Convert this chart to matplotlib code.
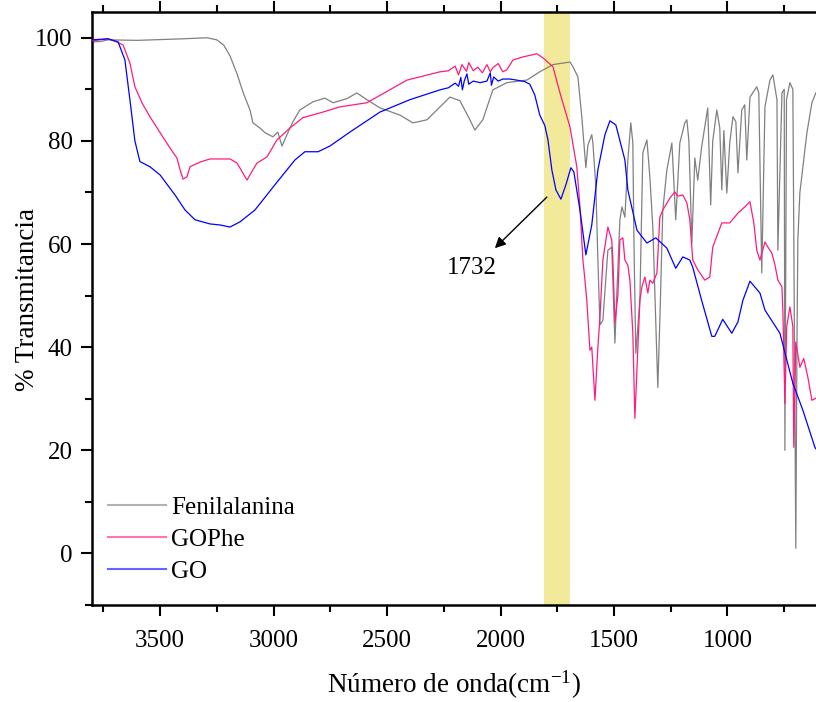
import matplotlib
matplotlib.use("Agg")
import matplotlib.pyplot as plt
from matplotlib.ticker import MultipleLocator

plt.rcParams["font.family"] = ["Liberation Serif", "DejaVu Serif"]
plt.rcParams["mathtext.default"] = "regular"

# ── Spectra (wavenumber cm-1, % transmittance) ──────────────────────────────
phe_wn = [3800, 3760, 3730, 3600, 3400, 3293, 3250, 3220, 3192, 3161, 3135,
          3104, 3091, 3060, 3038, 3003, 2981, 2963, 2941, 2915, 2884, 2826,
          2774, 2738, 2677, 2633, 2589, 2531, 2443, 2386, 2324, 2223, 2179,
          2135, 2113, 2078, 2034, 1972, 1884, 1827, 1769, 1694, 1681, 1659,
          1642, 1624, 1615, 1598, 1593, 1580, 1571, 1562, 1549, 1527, 1510,
          1496, 1488, 1474, 1465, 1452, 1439, 1426, 1417, 1412, 1404, 1386,
          1373, 1355, 1342, 1329, 1307, 1298, 1285, 1267, 1245, 1228, 1210,
          1188, 1179, 1170, 1157, 1144, 1131, 1114, 1087, 1074, 1065, 1047,
          1034, 1025, 1016, 1003, 990, 976, 963, 954, 937, 924, 915, 901, 871,
          862, 849, 835, 813, 800, 782, 778, 760, 750, 747, 740, 725, 712,
          699, 694, 690, 681, 650, 628, 611]
phe_t = [99.2, 99.3, 99.6, 99.5, 99.8, 100.0, 99.6, 98.6, 96.5, 93.0, 89.5,
         86.0, 83.5, 82.5, 81.6, 80.8, 81.7, 79.0, 81.2, 83.7, 86.0, 87.6,
         88.3, 87.4, 88.2, 89.3, 88.0, 86.4, 85.0, 83.5, 84.1, 88.5, 87.8,
         84.1, 82.1, 84.1, 89.9, 91.3, 91.8, 93.4, 94.8, 95.3, 94.4, 92.4,
         84.7, 74.8, 79.2, 81.2, 79.6, 71.1, 56.9, 44.3, 45.2, 58.8, 59.4,
         40.8, 50.0, 64.7, 67.2, 65.2, 76.3, 83.5, 79.6, 60.0, 38.8, 49.1,
         77.7, 80.2, 73.0, 63.3, 32.2, 45.2, 66.6, 74.4, 79.6, 64.7, 79.6,
         83.5, 84.1, 80.0, 60.2, 76.7, 72.4, 78.8, 86.4, 67.6, 80.0, 86.0,
         82.5, 70.5, 82.0, 69.9, 79.6, 84.7, 83.7, 73.8, 86.0, 87.0, 76.3,
         88.5, 90.5, 89.3, 54.4, 86.6, 91.8, 92.8, 88.0, 58.8, 89.3, 90.0,
         20.0, 88.0, 91.3, 90.0, 1.0, 40.0, 60.8, 70.0, 81.6, 87.4, 89.3]

gophe_wn = [3800, 3730, 3690, 3663, 3633, 3611, 3580, 3545, 3500, 3456, 3426,
            3412, 3399, 3382, 3368, 3324, 3280, 3192, 3161, 3117, 3091, 3073,
            3029, 2985, 2928, 2871, 2782, 2708, 2589, 2412, 2267, 2230, 2200,
            2185, 2170, 2150, 2140, 2120, 2100, 2080, 2060, 2045, 2034, 2010,
            1990, 1972, 1945, 1900, 1840, 1813, 1769, 1738, 1694, 1664, 1650,
            1637, 1628, 1620, 1606, 1598, 1584, 1571, 1562, 1549, 1527, 1510,
            1505, 1496, 1483, 1474, 1461, 1452, 1439, 1430, 1417, 1408, 1386,
            1377, 1364, 1351, 1342, 1329, 1311, 1298, 1285, 1254, 1232, 1219,
            1197, 1179, 1166, 1153, 1131, 1100, 1078, 1065, 1025, 990, 954,
            924, 901, 884, 871, 857, 835, 822, 805, 791, 778, 760, 756, 747,
            739, 725, 712, 708, 699, 681, 664, 646, 628, 611]
gophe_t = [99.4, 99.8, 99.2, 98.6, 95.1, 90.5, 87.4, 84.7, 81.6, 78.6, 76.7,
           74.4, 72.6, 73.0, 75.0, 75.9, 76.5, 76.5, 75.7, 72.4, 74.4, 75.7,
           76.9, 80.2, 82.5, 84.5, 85.6, 86.6, 87.4, 91.8, 93.4, 93.6, 94.5,
           92.8, 94.8, 93.5, 95.2, 93.6, 94.3, 93.2, 94.8, 93.4, 94.2, 95.0,
           93.4, 93.8, 95.7, 96.3, 96.9, 96.1, 94.4, 89.3, 82.7, 75.0, 67.2,
           56.9, 53.0, 49.1, 39.4, 40.0, 29.7, 40.0, 45.8, 56.9, 63.3, 60.8,
           56.9, 44.7, 50.0, 60.8, 61.2, 56.9, 55.9, 53.0, 42.7, 26.2, 49.1,
           51.7, 53.6, 50.5, 53.0, 52.4, 54.4, 65.2, 66.6, 68.9, 70.1, 69.3,
           69.5, 68.0, 64.7, 56.9, 55.0, 53.0, 53.6, 59.4, 64.1, 64.1, 66.0,
           67.2, 68.2, 64.1, 58.8, 56.9, 60.4, 59.4, 58.3, 56.0, 53.0, 51.7,
           47.2, 29.1, 44.0, 47.8, 44.0, 20.6, 41.0, 36.1, 37.8, 34.2, 29.7,
           30.1]

go_wn = [3800, 3730, 3685, 3655, 3633, 3611, 3589, 3545, 3500, 3434, 3390,
         3346, 3280, 3236, 3192, 3148, 3082, 2994, 2906, 2862, 2804, 2752,
         2664, 2531, 2399, 2267, 2230, 2200, 2185, 2175, 2168, 2160, 2148,
         2140, 2120, 2090, 2060, 2045, 2040, 2030, 2010, 1990, 1959, 1930,
         1893, 1871, 1849, 1827, 1805, 1791, 1774, 1756, 1734, 1712, 1690,
         1677, 1650, 1624, 1598, 1571, 1540, 1518, 1492, 1452, 1439, 1399,
         1355, 1316, 1267, 1228, 1197, 1166, 1153, 1114, 1069, 1056, 1021,
         981, 954, 932, 901, 857, 835, 769, 712, 668, 615, 611]
go_t = [99.6, 99.8, 99.2, 95.7, 88.0, 80.0, 76.0, 75.0, 73.4, 69.5, 66.6,
        64.7, 63.9, 63.7, 63.3, 64.3, 66.6, 71.5, 76.3, 77.9, 77.9, 79.0,
        81.7, 85.6, 88.0, 89.9, 90.3, 91.2, 90.6, 92.3, 89.9, 91.6, 93.0,
        91.0, 91.6, 91.3, 91.6, 93.2, 90.8, 92.4, 91.6, 92.0, 92.0, 91.8,
        91.5, 91.0, 88.9, 85.0, 83.0, 80.2, 74.4, 70.5, 68.7, 71.5, 74.8,
        74.0, 66.6, 57.9, 63.7, 74.4, 81.2, 83.9, 83.1, 76.3, 70.5, 62.7,
        60.2, 61.2, 59.2, 55.3, 57.5, 56.9, 55.5, 49.1, 42.1, 42.1, 45.4,
        42.7, 44.9, 49.1, 52.8, 50.5, 47.2, 42.7, 33.0, 27.8, 20.6, 20.3]

band = (1810, 1692)
peak_label = "1732"

fig = plt.figure(figsize=(8.16, 7.02), dpi=100)
ax = fig.add_axes([92 / 816, 97 / 702, 1 - 92 / 816, 593 / 702])

ax.axvspan(band[0], band[1], color="#F2EA9A", zorder=0, lw=0)

ax.plot(phe_wn, phe_t, color="#808080", lw=0.9, label="Fenilalanina", zorder=2)
ax.plot(gophe_wn, gophe_t, color="#FF1A80", lw=0.9, label="GOPhe", zorder=3)
ax.plot(go_wn, go_t, color="#0000FF", lw=0.9, label="GO", zorder=4)

ax.annotate("", xy=(2025, 59.2), xytext=(1796, 69.1),
            arrowprops=dict(arrowstyle="-|>", color="black", lw=1,
                            mutation_scale=16, shrinkA=0, shrinkB=0))
ax.text(2126, 55.3, peak_label, ha="center", va="center", fontsize=18)

ax.set_xlim(3800, 610)
ax.set_ylim(-10, 105)
ax.xaxis.set_major_locator(MultipleLocator(500))
ax.xaxis.set_minor_locator(MultipleLocator(250))
ax.yaxis.set_major_locator(MultipleLocator(20))
ax.yaxis.set_minor_locator(MultipleLocator(10))
ax.set_xticks([3500, 3000, 2500, 2000, 1500, 1000])
ax.tick_params(which="major", direction="out", length=8, width=1.5,
               labelsize=18, top=True)
ax.tick_params(which="minor", direction="out", length=5, width=1.5, top=True)
ax.tick_params(axis="x", pad=10)
ax.tick_params(axis="y", pad=6)
for side in ["left", "bottom", "top"]:
    ax.spines[side].set_linewidth(1.8)
ax.spines["right"].set_visible(False)

ax.set_xlabel("Número de onda(cm$^{-1}$)", fontsize=19.5, labelpad=12)
ax.set_ylabel("% Transmitancia", fontsize=19.5)
ax.yaxis.set_label_coords(-0.072, 0.515)

leg = ax.legend(loc="upper left", bbox_to_anchor=(0.0, 0.211), frameon=False,
                fontsize=18, handlelength=2.3, labelspacing=0.38,
                handletextpad=0.2, borderaxespad=0.25)
for line in leg.get_lines():
    line.set_alpha(0.6)
    line.set_linewidth(1.5)

fig.savefig("out.png", dpi=100)
